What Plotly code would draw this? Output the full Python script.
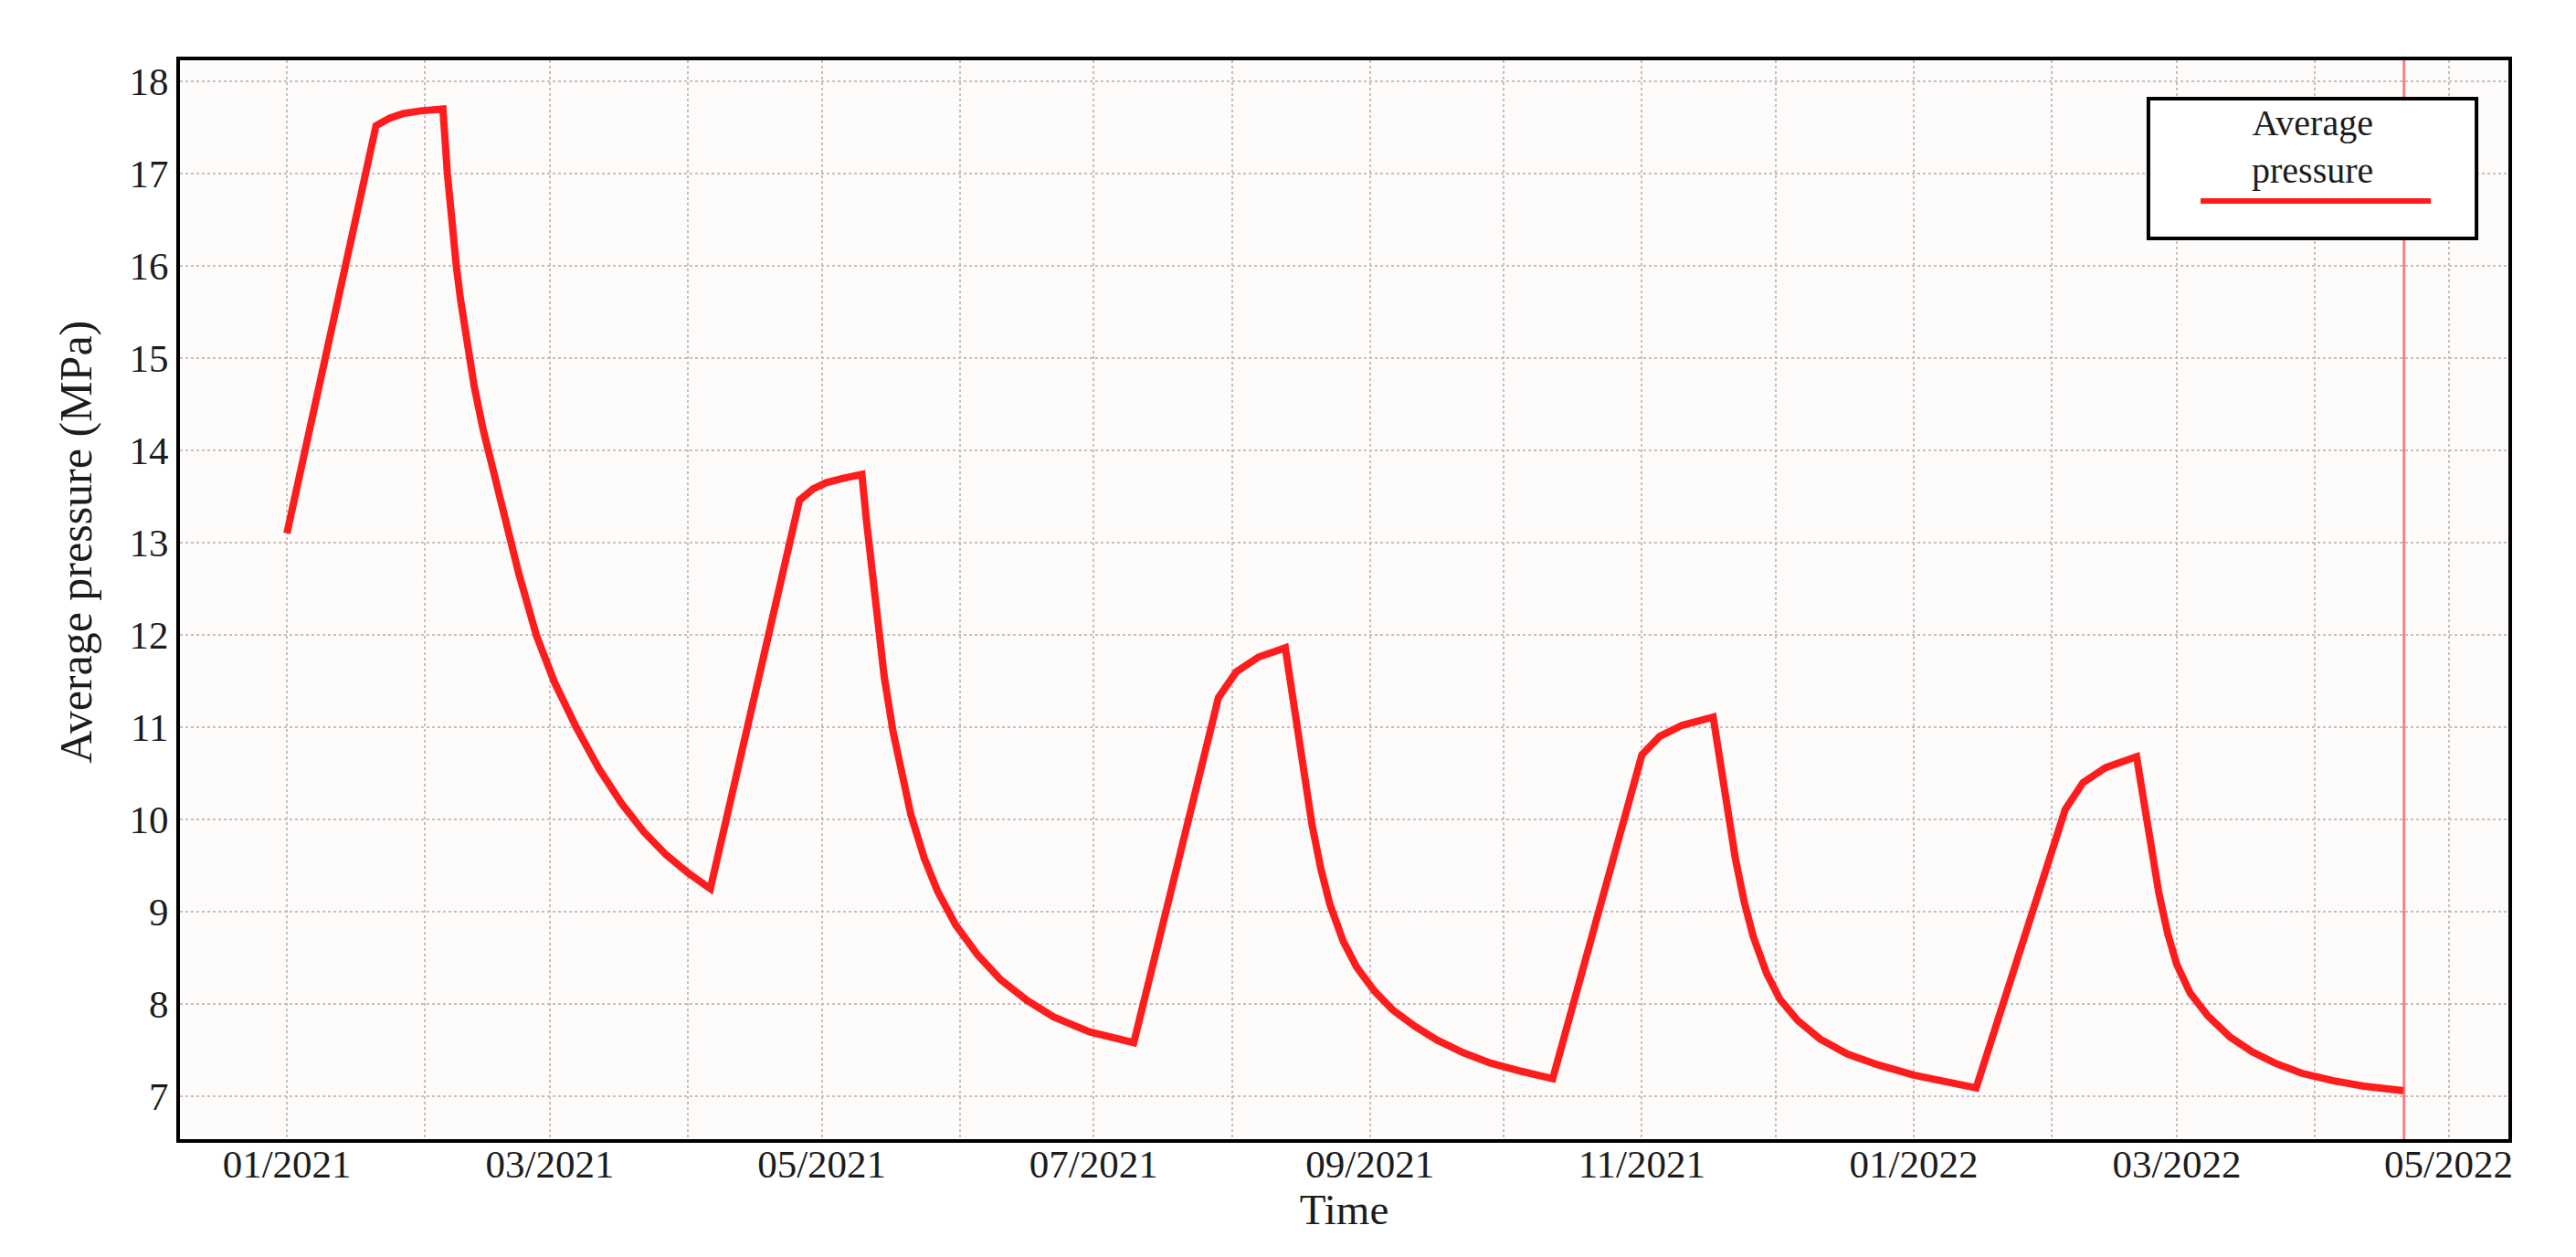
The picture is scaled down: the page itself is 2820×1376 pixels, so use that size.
import plotly.graph_objects as go

# ── Data ──────────────────────────────────────────────────────────────────────

DATES = [
    # cycle 1
    "2021-01-01", "2021-01-21", "2021-01-24", "2021-01-27", "2021-01-31", "2021-02-05",
    "2021-02-06", "2021-02-07", "2021-02-08", "2021-02-09", "2021-02-10", "2021-02-12",
    "2021-02-14", "2021-02-16", "2021-02-18", "2021-02-22", "2021-02-26", "2021-03-02",
    "2021-03-07", "2021-03-12", "2021-03-17", "2021-03-22", "2021-03-27", "2021-04-01",
    "2021-04-06",
    # cycle 2
    "2021-04-26", "2021-04-29", "2021-05-02", "2021-05-06", "2021-05-10",
    "2021-05-11", "2021-05-12", "2021-05-13", "2021-05-14", "2021-05-15", "2021-05-17",
    "2021-05-19", "2021-05-21", "2021-05-24", "2021-05-27", "2021-05-31", "2021-06-05",
    "2021-06-10", "2021-06-16", "2021-06-22", "2021-06-30", "2021-07-10",
    # cycle 3
    "2021-07-29", "2021-08-02", "2021-08-07", "2021-08-13",
    "2021-08-14", "2021-08-15", "2021-08-16", "2021-08-17", "2021-08-18", "2021-08-19",
    "2021-08-21", "2021-08-23", "2021-08-26", "2021-08-29", "2021-09-02", "2021-09-06",
    "2021-09-11", "2021-09-16", "2021-09-22", "2021-09-28", "2021-10-05", "2021-10-12",
    # cycle 4
    "2021-11-01", "2021-11-05", "2021-11-10", "2021-11-17",
    "2021-11-18", "2021-11-19", "2021-11-20", "2021-11-21", "2021-11-22", "2021-11-24",
    "2021-11-26", "2021-11-29", "2021-12-02", "2021-12-06", "2021-12-11", "2021-12-17",
    "2021-12-24", "2022-01-01", "2022-01-08", "2022-01-15",
    # cycle 5
    "2022-02-04", "2022-02-08", "2022-02-13", "2022-02-20",
    "2022-02-21", "2022-02-22", "2022-02-23", "2022-02-24", "2022-02-25", "2022-02-27",
    "2022-03-01", "2022-03-04", "2022-03-08", "2022-03-13", "2022-03-18", "2022-03-23",
    "2022-03-29", "2022-04-05", "2022-04-12", "2022-04-21",
]

PRESSURE = [
    13.10, 17.52, 17.60, 17.65, 17.68, 17.70,
    17.00, 16.45, 16.00, 15.62, 15.28, 14.70,
    14.23, 13.82, 13.43, 12.67, 11.99, 11.49,
    10.99, 10.55, 10.18, 9.87, 9.62, 9.42,
    9.25,
    13.46, 13.58, 13.65, 13.70, 13.74,
    13.25, 12.78, 12.33, 11.92, 11.55, 10.95,
    10.45, 10.05, 9.58, 9.22, 8.86, 8.53,
    8.27, 8.04, 7.86, 7.70, 7.58,
    11.32, 11.60, 11.76, 11.86,
    11.55, 11.20, 10.85, 10.52, 10.22, 9.94,
    9.46, 9.08, 8.68, 8.40, 8.14, 7.94,
    7.76, 7.61, 7.47, 7.36, 7.27, 7.19,
    10.70, 10.90, 11.02, 11.11,
    10.80, 10.47, 10.15, 9.85, 9.57, 9.10,
    8.73, 8.33, 8.05, 7.82, 7.62, 7.46,
    7.34, 7.23, 7.15, 7.09,
    10.11, 10.40, 10.56, 10.68,
    10.38, 10.06, 9.75, 9.46, 9.20, 8.76,
    8.43, 8.12, 7.87, 7.64, 7.48, 7.36,
    7.25, 7.17, 7.11, 7.06,
]

X_TICKS = ["2021-01-01", "2021-03-01", "2021-05-01", "2021-07-01", "2021-09-01",
           "2021-11-01", "2022-01-01", "2022-03-01", "2022-05-01"]
X_LABELS = ["01/2021", "03/2021", "05/2021", "07/2021", "09/2021",
            "11/2021", "01/2022", "03/2022", "05/2022"]
Y_TICKS = [7, 8, 9, 10, 11, 12, 13, 14, 15, 16, 17, 18]
MARKER_DATE = "2022-04-21"

# ── Styling ───────────────────────────────────────────────────────────────────

FONT = "Liberation Serif, Times New Roman, serif"
GRID = "#cdbcbc"
INK = "#1c1c1c"
RED = "#ff1c1c"

_AXIS = dict(
    showline=True, mirror=True, linecolor="black", linewidth=4,
    showgrid=True, gridcolor=GRID, gridwidth=2, griddash="dot",
    zeroline=False, ticks="", automargin=False,
    tickfont=dict(family=FONT, size=43, color=INK),
    title_font=dict(family=FONT, size=47, color=INK),
)

fig = go.Figure(go.Scatter(
    x=DATES, y=PRESSURE, mode="lines", name="Average pressure",
    line=dict(color=RED, width=8),
))

fig.update_layout(
    width=2820, height=1376,
    paper_bgcolor="white", plot_bgcolor="#fdfcfb",
    margin=dict(l=189, r=82, t=58, b=137),
    showlegend=False,
    xaxis=dict(
        **_AXIS, type="date",
        range=["2020-12-08", "2022-05-14 10:00"],
        tickmode="array", tickvals=X_TICKS, ticktext=X_LABELS,
        ticklabelstandoff=-14,
        minor=dict(tickmode="linear", tick0="2021-01-01", dtick="M1",
                   showgrid=True, gridcolor=GRID, gridwidth=2, griddash="dot"),
        title=dict(text="Time", standoff=3),
    ),
    yaxis=dict(
        **_AXIS,
        range=[6.535, 18.228],
        tickmode="array", tickvals=Y_TICKS,
    ),
)

# y title sits a little above the middle of the axis in the original
fig.add_annotation(text="Average pressure (MPa)", textangle=-90,
                   xref="paper", yref="paper", x=-0.0448, y=0.5538,
                   xanchor="center", yanchor="middle", showarrow=False,
                   font=dict(family=FONT, size=50, color=INK))

# end-of-run marker
fig.add_shape(type="line", xref="x", yref="paper", x0=MARKER_DATE, x1=MARKER_DATE,
              y0=0, y1=1, line=dict(color="rgba(235,90,90,0.75)", width=3), layer="above")

# legend box drawn by hand: text on two lines, sample line underneath
fig.add_shape(type="rect", xref="paper", yref="paper", x0=0.8454, x1=0.9863,
              y0=0.8349, y1=0.9644, line=dict(color="black", width=4),
              fillcolor="white", layer="above")
fig.add_shape(type="line", xref="paper", yref="paper", x0=0.8678, x1=0.9667,
              y0=0.8696, y1=0.8696, line=dict(color=RED, width=6), layer="above")
fig.add_annotation(text="Average<br>pressure", xref="paper", yref="paper",
                   x=0.9158, y=0.9204, xanchor="center", yanchor="middle",
                   showarrow=False, align="center",
                   font=dict(family=FONT, size=40, color=INK))

fig.write_html("out.html")
